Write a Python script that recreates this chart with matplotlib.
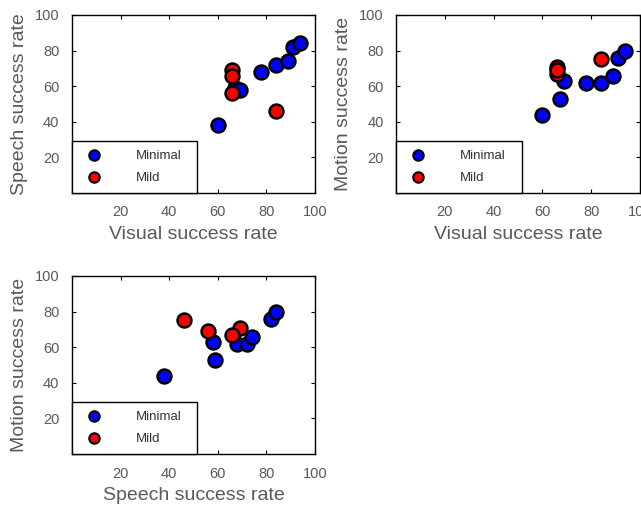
import matplotlib
matplotlib.use("Agg")
import matplotlib.pyplot as plt
from matplotlib.lines import Line2D

plt.rcParams['font.family'] = ['Liberation Sans', 'DejaVu Sans']

# success rates per participant group
minimal_visual = [60, 67, 69, 78, 84, 89, 91, 94]
minimal_speech = [38, 59, 58, 68, 72, 74, 82, 84]
minimal_motion = [44, 53, 63, 62, 62, 66, 76, 80]

mild_visual = [66, 66, 66, 84]
mild_speech = [69, 66, 56, 46]
mild_motion = [71, 67, 69, 75]

ticks = [20, 40, 60, 80, 100]
text_color = "#595959"

fig = plt.figure(figsize=(6.41, 5.13), dpi=100)

panels = [
    ([0.1123, 0.6238, 0.379, 0.347], minimal_visual, minimal_speech, mild_visual, mild_speech,
     "Visual success rate", "Speech success rate"),
    ([0.6178, 0.6238, 0.3807, 0.347], minimal_visual, minimal_motion, mild_visual, mild_motion,
     "Visual success rate", "Motion success rate"),
    ([0.1123, 0.115, 0.379, 0.347], minimal_speech, minimal_motion, mild_speech, mild_motion,
     "Speech success rate", "Motion success rate"),
]

for rect, bx, by, rx, ry, xlab, ylab in panels:
    ax = fig.add_axes(rect)
    ax.scatter(bx, by, s=100, c="#0000FF", edgecolors="black", linewidths=1.8, zorder=3)
    ax.scatter(rx, ry, s=100, c="#FF0000", edgecolors="black", linewidths=1.8, zorder=4)
    ax.set_xlim(0, 100)
    ax.set_ylim(0, 100)
    ax.set_xticks(ticks)
    ax.set_yticks(ticks)
    ax.tick_params(direction="in", top=True, right=True, length=3, width=0.8,
                   labelsize=10.5, labelcolor=text_color, pad=9)
    for sp in ax.spines.values():
        sp.set_linewidth(1.0)
    ax.set_xlabel(xlab, fontsize=14, color=text_color, labelpad=5)
    ax.set_ylabel(ylab, fontsize=14, color=text_color, labelpad=5)

    handles = [
        Line2D([], [], linestyle="none", marker="o", markersize=7.5, markerfacecolor="#0000FF",
               markeredgecolor="black", markeredgewidth=1.5),
        Line2D([], [], linestyle="none", marker="o", markersize=7.5, markerfacecolor="#FF0000",
               markeredgecolor="black", markeredgewidth=1.5),
    ]
    leg = ax.legend(handles, ["Minimal", "Mild"], loc="lower left",
                    bbox_to_anchor=(0, 0, 0.515, 0.28), mode="expand", borderaxespad=0,
                    fontsize=9.5, handletextpad=2.2, borderpad=0.65, labelspacing=0.75,
                    fancybox=False, edgecolor="black", framealpha=1)
    leg.get_frame().set_linewidth(1.0)
    for t in leg.get_texts():
        t.set_color("#333333")

fig.savefig("out.png", dpi=100)
